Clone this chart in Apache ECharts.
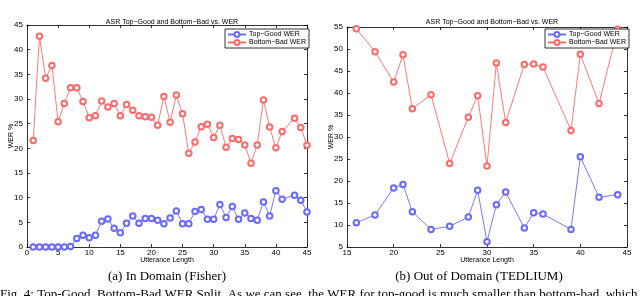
<!DOCTYPE html>
<html>
<head>
<meta charset="utf-8">
<script src="https://cdn.jsdelivr.net/npm/echarts@6/dist/echarts.min.js"></script>
<style>html,body{margin:0;padding:0;background:#fff}#c{width:640px;height:296px}</style>
</head>
<body>
<div id="c"></div>
<script>
// ---- Data ----
var lengthsA = [1,2,3,4,5,6,7,8,9,10,11,12,13,14,15,16,17,18,19,20,21,22,23,24,25,26,27,28,29,30,31,32,33,34,35,36,37,38,39,40,41,43,44,45];
var goodA = [0,0,0,0,0,0,0.1,1.7,2.4,1.9, 2.4,5.2,5.7,3.8,2.9,4.8,6.3,4.8,5.8,5.8, 5.4,4.7,5.9,7.3,4.7,4.7,7.2,7.6,5.6,5.6, 8.6,6.0,8.2,5.6,6.9,5.8,5.4,9.1,6.3,11.4, 9.7,10.5,9.5,7.1];
var badA = [21.6,42.7,34.2,36.8,25.4,29.1,32.3,32.3,29.5,26.2, 26.6,29.6,28.4,29.1,26.6,28.9,27.7,26.6,26.4,26.3, 24.7,30.5,25.3,30.8,27.0,19.0,21.3,24.4,24.9,22.2, 24.7,20.2,22.0,21.8,20.7,17.0,20.7,29.8,24.3,20.1, 23.4,26.1,24.2,20.6];

var lengthsB = [16,18,20,21,22,24,26,28,29,30,31,32,34,35,36,39,40,42,44];
var goodB = [10.5,12.3,18.4,19.2,13.0,9.0,9.7,11.8,17.9,6.2,14.6,17.5,9.3,12.8,12.5,9.0,25.5,16.3,16.9];
var badB = [54.6,49.4,42.5,48.7,36.4,39.6,24.0,34.5,39.4,23.4,46.8,33.3,46.5,46.6,45.9,31.5,48.8,37.6,54.5];

var seriesNames = ['Top\u2212Good WER', 'Bottom\u2212Bad WER'];
var chartTitle = 'ASR Top\u2212Good and Bottom\u2212Bad vs. WER';
var captions = ['(a) In Domain (Fisher)', '(b) Out of Domain (TEDLIUM)'];
var xName = 'Utterance Length';
var yName = 'WER %';
var bodyText = 'Fig. 4: Top-Good, Bottom-Bad WER Split. As we can see, the WER for top-good is much smaller than bottom-bad, which has a more generic fashion for in-domain ones. We will see the impact of';

// ---- Build ----
function pairs(xs, ys) { return xs.map(function (x, i) { return [x, ys[i]]; }); }

var FONT = 'Liberation Sans';
var BLUE = '#6a6aff';
var RED = '#ff6a6a';

function mkX(grid, min, max, pos, label) {
  return {
    type: 'value', gridIndex: grid, min: min, max: max, interval: 5, position: pos,
    name: label ? xName : '', nameLocation: 'middle', nameGap: 10, nameMoveOverlap: false,
    nameTextStyle: { fontFamily: FONT, fontSize: 7, color: '#000' },
    axisLine: { show: true, onZero: false, lineStyle: { color: '#000', width: 0.8 } },
    axisTick: { show: true, inside: true, length: 3, lineStyle: { color: '#000', width: 0.8 } },
    axisLabel: { show: label, fontFamily: FONT, fontSize: 8, color: '#000', margin: 2 },
    splitLine: { show: false }
  };
}
function mkY(grid, min, max, pos, label) {
  return {
    type: 'value', gridIndex: grid, min: min, max: max, interval: 5, position: pos,
    name: label ? yName : '', nameLocation: 'middle', nameGap: 12, nameRotate: 90, nameMoveOverlap: false,
    nameTextStyle: { fontFamily: FONT, fontSize: 7, color: '#000' },
    axisLine: { show: true, onZero: false, lineStyle: { color: '#000', width: 0.8 } },
    axisTick: { show: true, inside: true, length: 3, lineStyle: { color: '#000', width: 0.8 } },
    axisLabel: { show: label, fontFamily: FONT, fontSize: 8, color: '#000', margin: 4 },
    splitLine: { show: false }
  };
}
function mkSeries(name, data, color, xi, yi) {
  return {
    name: name, type: 'line', xAxisIndex: xi, yAxisIndex: yi, data: data,
    symbol: 'emptyCircle', symbolSize: 5.5, clip: false,
    itemStyle: { color: color, borderColor: color, borderWidth: 0.9 },
    lineStyle: { color: color, width: 0.9 },
    emphasis: { disabled: true }, animation: false
  };
}
function mkLegend(left) {
  return {
    left: left, top: 29, orient: 'vertical', data: seriesNames,
    backgroundColor: '#fff', borderColor: '#000', borderWidth: 0.8,
    padding: [2, 3, 2, 2], itemGap: 1, itemWidth: 18, itemHeight: 6,
    textStyle: { fontFamily: FONT, fontSize: 7, color: '#000', padding: [0, 0, 0, -2] },
    selectedMode: false
  };
}

var chart = echarts.init(document.getElementById('c'), null, { renderer: 'canvas' });
chart.setOption({
  backgroundColor: '#fff',
  animation: false,
  title: [
    { text: chartTitle, left: 167, top: 14, textAlign: 'center', textStyle: { fontFamily: FONT, fontSize: 7, fontWeight: 'normal', color: '#000' } },
    { text: chartTitle, left: 487, top: 14, textAlign: 'center', textStyle: { fontFamily: FONT, fontSize: 7, fontWeight: 'normal', color: '#000' } }
  ],
  legend: [mkLegend(225), mkLegend(545)],
  grid: [
    { left: 27, top: 25, width: 280, height: 222 },
    { left: 347, top: 27, width: 280, height: 220 }
  ],
  xAxis: [mkX(0, 0, 45, 'bottom', true), mkX(0, 0, 45, 'top', false), mkX(1, 15, 45, 'bottom', true), mkX(1, 15, 45, 'top', false)],
  yAxis: [mkY(0, 0, 45, 'left', true), mkY(0, 0, 45, 'right', false), mkY(1, 5, 55, 'left', true), mkY(1, 5, 55, 'right', false)],
  series: [
    mkSeries(seriesNames[0], pairs(lengthsA, goodA), BLUE, 0, 0),
    mkSeries(seriesNames[1], pairs(lengthsA, badA), RED, 0, 0),
    mkSeries(seriesNames[0], pairs(lengthsB, goodB), BLUE, 2, 2),
    mkSeries(seriesNames[1], pairs(lengthsB, badB), RED, 2, 2)
  ],
  graphic: [
    { type: 'text', style: { x: 167, y: 277, text: captions[0], fontFamily: 'Liberation Serif', fontSize: 13, fill: '#000', textAlign: 'center', textVerticalAlign: 'middle' } },
    { type: 'text', style: { x: 479, y: 277, text: captions[1], fontFamily: 'Liberation Serif', fontSize: 13, fill: '#000', textAlign: 'center', textVerticalAlign: 'middle' } },
    { type: 'text', style: { x: 0, y: 295, text: bodyText, fontFamily: 'Liberation Serif', fontSize: 13, fill: '#000', textAlign: 'left', textVerticalAlign: 'middle' } }
  ]
});
</script>
</body>
</html>
